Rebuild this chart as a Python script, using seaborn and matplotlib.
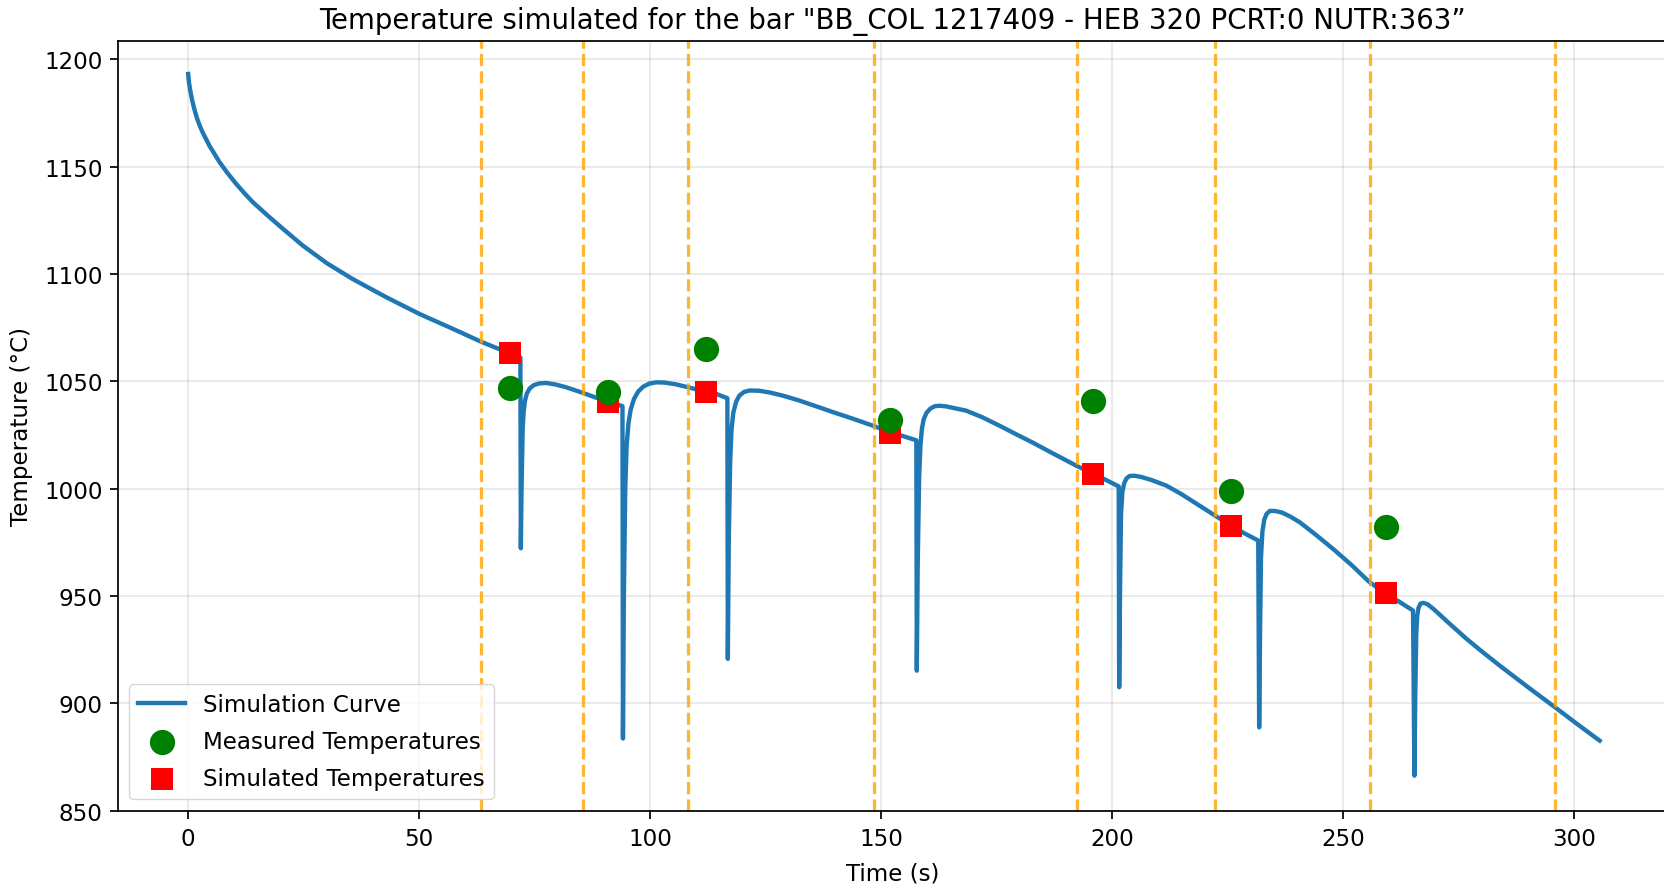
import matplotlib
matplotlib.use("Agg")
import matplotlib.pyplot as plt
import seaborn as sns

# ---- data ----
time_s = [0.0, 0.15, 0.4, 0.8, 1.3, 1.9, 2.6, 3.2, 4.6, 6.8, 8.5, 10.4, 12.2, 14.0, 17.6, 21.0, 24.8, 30.0, 35.6, 42.9, 50.1, 57.3, 63.4, 69.6, 71.9,
          72.0, 72.15, 72.4, 72.6, 72.9, 73.3, 73.9, 74.8, 76.0, 77.5, 79.5, 81.8, 85.4, 88.5, 91.2, 94.0,
          94.1, 94.3, 94.6, 94.9, 95.3, 95.8, 96.5, 97.4, 98.5, 99.8, 101.3, 103.0, 105.5, 108.2, 112.0, 114.3, 116.7,
          116.8, 117.0, 117.3, 117.6, 118.0, 118.6, 119.3, 120.3, 121.5, 123.5, 125.8, 128.7, 132.3, 135.8, 139.6, 143.8, 148.2, 151.8, 154.5, 157.6,
          157.7, 157.9, 158.2, 158.5, 158.8, 159.2, 159.8, 160.6, 161.5, 162.5, 164.0, 166.0, 168.4, 171.8, 175.6, 179.2, 182.9, 187.5, 192.2, 195.8, 198.5, 201.4,
          201.5, 201.7, 201.9, 202.2, 202.6, 203.1, 203.8, 204.8, 206.3, 208.5, 211.7, 215.0, 218.5, 222.3, 225.7, 228.5, 231.6,
          231.8, 232.0, 232.2, 232.5, 232.9, 233.4, 234.1, 235.2, 236.8, 238.6, 240.6, 244.0, 247.8, 251.8, 255.7, 259.2, 262.2, 265.1,
          265.4, 265.6, 265.8, 266.0, 266.3, 266.7, 267.3, 268.2, 269.5, 272.8, 276.7, 280.2, 283.9, 290.0, 295.8, 300.6, 305.5]
temp_c = [1193.1, 1189.5, 1186.0, 1181.5, 1177.0, 1172.5, 1168.5, 1165.6, 1159.7, 1152.0, 1147.0, 1141.9, 1137.5, 1133.4, 1126.4, 1120.1, 1113.2, 1105.0, 1097.6, 1089.1, 1081.3, 1074.4, 1068.4, 1063.0, 1061.0,
          972.2, 1000.0, 1028.0, 1035.5, 1041.0, 1044.3, 1046.6, 1048.2, 1049.0, 1049.2, 1048.5, 1047.2, 1044.6, 1042.2, 1040.2, 1038.4,
          883.6, 950.0, 1000.0, 1020.0, 1030.5, 1037.0, 1041.8, 1045.2, 1047.5, 1048.9, 1049.5, 1049.4, 1048.6, 1047.2, 1045.2, 1044.1, 1042.1,
          920.7, 975.0, 1012.0, 1027.5, 1035.5, 1040.5, 1043.3, 1045.0, 1045.7, 1045.6, 1044.8, 1043.3, 1041.0, 1038.4, 1035.6, 1032.6, 1029.3, 1026.5, 1024.6, 1022.5,
          915.2, 965.0, 1005.0, 1020.5, 1027.8, 1032.3, 1035.3, 1037.2, 1038.3, 1038.6, 1038.3, 1037.4, 1036.3, 1033.3, 1029.3, 1025.3, 1021.3, 1016.0, 1010.7, 1007.0, 1004.2, 1001.0,
          907.5, 955.0, 988.0, 998.5, 1002.6, 1004.8, 1005.9, 1006.0, 1005.4, 1004.0, 1001.4, 997.4, 992.6, 987.4, 982.7, 979.3, 975.8,
          888.8, 935.0, 968.0, 980.0, 985.5, 988.2, 989.6, 989.6, 988.8, 986.9, 984.3, 978.6, 971.9, 964.4, 956.4, 951.2, 947.2, 943.2,
          866.3, 905.0, 932.0, 940.5, 944.5, 946.4, 946.8, 946.2, 944.0, 937.5, 930.0, 923.8, 917.5, 907.5, 898.2, 890.4, 882.6]

measured_t = [69.6, 90.8, 112.1, 151.8, 195.8, 225.7, 259.2]
measured_T = [1046.9, 1045.2, 1065.0, 1032.1, 1040.8, 998.9, 982.3]

simulated_t = [69.6, 90.8, 112.1, 151.8, 195.8, 225.7, 259.2]
simulated_T = [1063.0, 1040.2, 1044.9, 1025.9, 1006.8, 982.7, 951.2]

stand_times = [63.4, 85.4, 108.2, 148.4, 192.3, 222.3, 255.7, 295.8]

title = 'Temperature simulated for the bar "BB_COL 1217409 - HEB 320 PCRT:0 NUTR:363\u201d'

# ---- styling ----
k = 1.57    # line scale
f = 1.66    # font scale
plt.rcParams.update({
    "font.family": ["DejaVu Sans"],
    "font.size": 10 * f,
    "axes.linewidth": 0.8 * k,
    "xtick.major.size": 3.5 * k,
    "ytick.major.size": 3.5 * k,
    "xtick.major.width": 0.8 * k,
    "ytick.major.width": 0.8 * k,
    "xtick.major.pad": 4.2 * k,
    "ytick.major.pad": 3.5 * k,
    "grid.linewidth": 0.8 * k,
})

fig = plt.figure(figsize=(16.65, 8.95), dpi=100)
ax = fig.add_axes([0.0707, 0.0931, 0.931, 0.8603])

ax.grid(True, alpha=0.3)

sns.lineplot(x=time_s, y=temp_c, ax=ax, sort=False, estimator=None,
             color="#1f77b4", linewidth=2 * k, label="Simulation Curve")
sns.scatterplot(x=measured_t, y=measured_T, ax=ax, color="green", marker="o",
                s=330, linewidth=0, label="Measured Temperatures", zorder=5)
sns.scatterplot(x=simulated_t, y=simulated_T, ax=ax, color="red", marker="s",
                s=270, linewidth=0, label="Simulated Temperatures", zorder=4)

for t in stand_times:
    ax.axvline(t, color="orange", linestyle="--", alpha=0.8, linewidth=1.5 * k)

ax.set_xlim(-15.25, 320.25)
ax.set_ylim(850, 1208.6)
ax.set_xticks([0, 50, 100, 150, 200, 250, 300])
ax.set_yticks([850, 900, 950, 1000, 1050, 1100, 1150, 1200])
ax.tick_params(labelsize=10 * f)

ax.set_title(title, fontsize=12 * f, pad=6 * k)
ax.set_xlabel("Time (s)", fontsize=10 * f, labelpad=5 * k)
ax.set_ylabel("Temperature (°C)", fontsize=10 * f, labelpad=5 * k)

ax.legend(loc="lower left", fontsize=10 * f, labelspacing=0.6)

fig.savefig("out.png", dpi=100)
